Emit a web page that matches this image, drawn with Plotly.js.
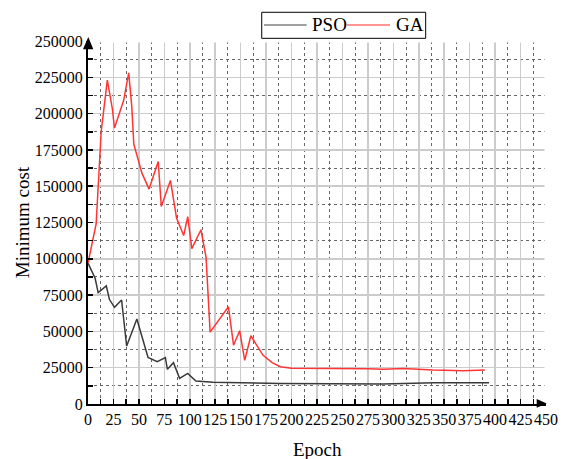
<!DOCTYPE html>
<html>
<head>
<meta charset="utf-8">
<script src="https://cdn.plot.ly/plotly-3.0.1.min.js"></script>
<style>
html,body{margin:0;padding:0;background:#fff;}
#chart{width:564px;height:459px;}
#chart .xtick text, #chart .ytick text {font-family: "Liberation Serif", "Times New Roman", serif !important;}
</style>
</head>
<body>
<div id="chart"></div>
<script>
// Data
const psoEpoch = [0, 7, 10, 18, 21, 26, 33, 38, 48, 59, 68, 76, 78, 84, 90, 98, 106, 123, 189, 250, 290, 340, 394];
const psoCost  = [97000, 86600, 76700, 81300, 72100, 66600, 71600, 39900, 58500, 32100, 29100, 31900, 23900, 28500, 17700, 21100, 15800, 14900, 14200, 14000, 13800, 14700, 14700];

const gaEpoch = [0, 8, 13, 19, 24, 26, 35, 40, 43, 45, 53, 60, 69, 72, 81, 87, 94, 98, 102, 111, 116, 120, 138, 143, 149, 154, 160, 172, 181, 189, 200, 225, 250, 275, 290, 310, 339, 369, 390];
const gaCost  = [97000, 124000, 188000, 223000, 203000, 190000, 209000, 228000, 205000, 179000, 159000, 148000, 167000, 136000, 154000, 128000, 116000, 129000, 107000, 120000, 101000, 49500, 67000, 40500, 50500, 30000, 47000, 33500, 28500, 25700, 24600, 24600, 24400, 24300, 23900, 24500, 23400, 22900, 23400];

const seriesNames = ['PSO', 'GA'];
const seriesColors = ['#3a3a3a', '#ff3535'];

const font = 'Liberation Serif';

const traces = [
  {x: psoEpoch, y: psoCost, name: seriesNames[0], mode: 'lines', line: {color: seriesColors[0], width: 1.5}},
  {x: gaEpoch, y: gaCost, name: seriesNames[1], mode: 'lines', line: {color: seriesColors[1], width: 1.5}}
];

function axis(range, dtick) {
  return {
    range: range, dtick: dtick, tick0: 0, tickmode: 'linear', tickformat: 'd',
    showline: true, linecolor: '#000', linewidth: 2,
    ticks: 'inside', ticklen: 5, tickwidth: 1.5, tickcolor: '#000',
    showgrid: true, gridcolor: '#cccccc', gridwidth: 1.5,
    zeroline: false, tickangle: 0,
    tickfont: {family: font, size: 16, color: '#000'},
    minor: {tick0: dtick / 2, dtick: dtick, ticks: 'inside', ticklen: 5, tickwidth: 1.5, tickcolor: '#000',
            showgrid: true, gridcolor: '#666', griddash: 'dot', gridwidth: 1}
  };
}

const layout = {
  width: 564, height: 459,
  margin: {l: 88, r: 18, t: 41, b: 55},
  paper_bgcolor: '#fff', plot_bgcolor: '#fff',
  showlegend: false,
  font: {family: font, color: '#000'},
  xaxis: axis([0, 450], 25),
  yaxis: axis([0, 250000], 25000),
  shapes: [
    // hide edge gridlines
    {type: 'line', xref: 'paper', yref: 'paper', x0: 0.004, x1: 1.01, y0: 1, y1: 1, line: {color: '#fff', width: 3}, layer: 'above'},
    {type: 'line', xref: 'paper', yref: 'paper', x0: 1, x1: 1, y0: 0.006, y1: 1.01, line: {color: '#fff', width: 3}, layer: 'above'},
    // axis arrows
    {type: 'path', xref: 'paper', yref: 'paper', path: 'M0.0006,1.011 L-0.0109,0.9771 L0.0116,0.9771 Z', fillcolor: '#000', line: {width: 0}},
    {type: 'path', xref: 'paper', yref: 'paper', path: 'M1.0015,0.0014 L0.9797,0.0138 L0.9797,-0.0102 Z', fillcolor: '#000', line: {width: 0}},
    // legend box
    {type: 'rect', xref: 'paper', yref: 'paper', x0: 0.3793, x1: 0.7373, y0: 1.0074, y1: 1.0791, line: {color: '#000', width: 1}, fillcolor: 'rgba(0,0,0,0)'},
    {type: 'line', xref: 'paper', yref: 'paper', x0: 0.3843, x1: 0.4775, y0: 1.0441, y1: 1.0441, line: {color: '#808080', width: 1.5}},
    {type: 'line', xref: 'paper', yref: 'paper', x0: 0.5648, x1: 0.6594, y0: 1.0441, y1: 1.0441, line: {color: '#ff7070', width: 1.5}}
  ],
  annotations: [
    {text: seriesNames[0], xref: 'paper', yref: 'paper', x: 0.4847, y: 1.0441, xanchor: 'left', yanchor: 'middle', showarrow: false, font: {family: font, size: 19, color: '#000'}},
    {text: seriesNames[1], xref: 'paper', yref: 'paper', x: 0.6681, y: 1.0441, xanchor: 'left', yanchor: 'middle', showarrow: false, font: {family: font, size: 19, color: '#000'}},
    {text: 'Epoch', xref: 'paper', yref: 'paper', x: 0.501, y: -0.1267, xanchor: 'center', yanchor: 'middle', showarrow: false, font: {family: font, size: 19, color: '#000'}},
    {text: 'Minimum cost', xref: 'paper', yref: 'paper', x: -0.144, y: 0.501, xanchor: 'center', yanchor: 'middle', textangle: -90, showarrow: false, font: {family: font, size: 19, color: '#000'}}
  ]
};

Plotly.newPlot('chart', traces, layout, {displayModeBar: false, staticPlot: true});
</script>
</body>
</html>
